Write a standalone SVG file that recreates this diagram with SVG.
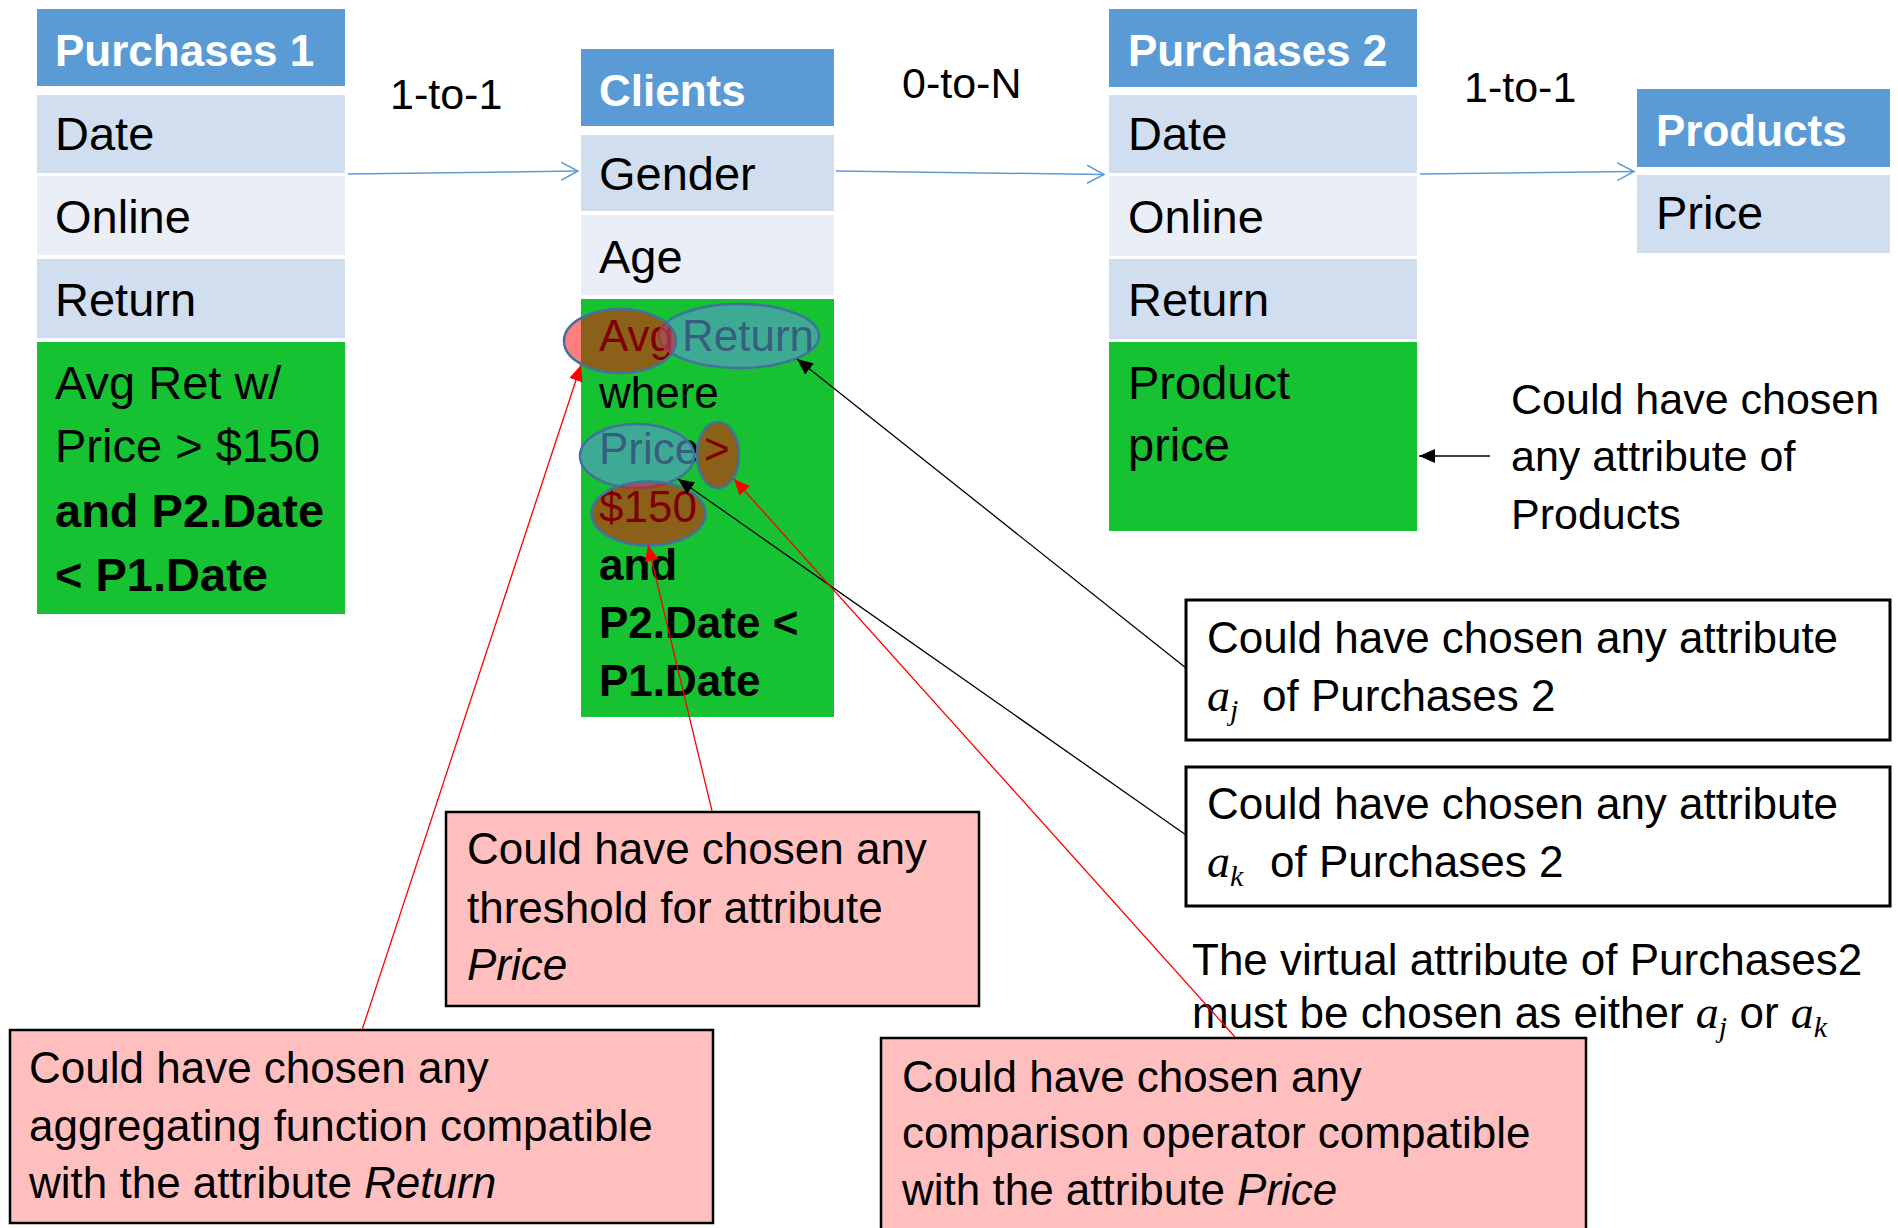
<svg xmlns="http://www.w3.org/2000/svg" width="1898" height="1228" viewBox="0 0 1898 1228">
<style>
text{font-family:"Liberation Sans",Arial,sans-serif;fill:#000}
.hd{fill:#5B9BD5}
.r1{fill:#D0DEEF}
.r2{fill:#E9EEF7}
.gr{fill:#16C132}
.ht{font-weight:bold;font-size:44px;fill:#fff}
.rt{font-size:47px}
.ct{font-size:44px}
.b{font-weight:bold}
.lbl{font-size:43px}
.an{font-size:44px}
.note{fill:#FFBFBF;stroke:#000;stroke-width:2.5}
.box{fill:#fff;stroke:#000;stroke-width:3}
.m{font-family:"Liberation Serif","Times New Roman",serif;font-style:italic}
.el{stroke:#41719C;stroke-width:2.5}
.er{fill:rgba(255,0,0,0.5)}
.eb{fill:rgba(91,155,213,0.6)}
.rel{fill:none;stroke:#5B9BD5;stroke-width:1.5}
.blk{fill:none;stroke:#000;stroke-width:1.3}
.red{fill:none;stroke:#F00;stroke-width:1.3}
</style>
<defs>
<marker id="open" markerUnits="userSpaceOnUse" markerWidth="20" markerHeight="22" refX="17" refY="10" orient="auto"><path d="M0,1 L17,10 L0,19" fill="none" stroke="#5B9BD5" stroke-width="1.5"/></marker>
<marker id="hb" markerUnits="userSpaceOnUse" markerWidth="18" markerHeight="15" refX="16" refY="7" orient="auto"><path d="M0,0 L16,7 L0,14 z" fill="#000"/></marker>
<marker id="hr" markerUnits="userSpaceOnUse" markerWidth="18" markerHeight="15" refX="16" refY="7" orient="auto"><path d="M0,0 L16,7 L0,14 z" fill="#F00"/></marker>
</defs>

<g id="purchases1">
<rect class="hd" x="37" y="9" width="308" height="77"/>
<rect class="r1" x="37" y="95" width="308" height="78"/>
<rect class="r2" x="37" y="176" width="308" height="79"/>
<rect class="r1" x="37" y="259" width="308" height="79"/>
<rect class="gr" x="37" y="342" width="308" height="272"/>
<text class="ht" x="55" y="66">Purchases 1</text>
<text class="rt" x="55" y="150">Date</text>
<text class="rt" x="55" y="233">Online</text>
<text class="rt" x="55" y="316">Return</text>
<text class="rt" x="55" y="399">Avg Ret w/</text>
<text class="rt" x="55" y="462">Price &gt; $150</text>
<text class="rt b" x="55" y="527">and P2.Date</text>
<text class="rt b" x="55" y="591">&lt; P1.Date</text>
</g>

<g id="clients">
<rect class="hd" x="581" y="49" width="253" height="77"/>
<rect class="r1" x="581" y="135" width="253" height="76"/>
<rect class="r2" x="581" y="215" width="253" height="80"/>
<rect class="gr" x="581" y="299" width="253" height="418"/>
<text class="ht" x="599" y="106">Clients</text>
<text class="rt" x="599" y="190">Gender</text>
<text class="rt" x="599" y="273">Age</text>
<text class="ct" x="599" y="351">Avg</text>
<text class="ct" x="682" y="351">Return</text>
<text class="ct" x="599" y="408">where</text>
<text class="ct" x="599" y="464">Price</text>
<text class="ct" x="704" y="464">&gt;</text>
<text class="ct" x="599" y="522">$150</text>
<text class="ct b" x="599" y="580">and</text>
<text class="ct b" x="599" y="638">P2.Date &lt;</text>
<text class="ct b" x="599" y="696">P1.Date</text>
<ellipse class="el eb" cx="739" cy="336" rx="80" ry="32"/>
<ellipse class="el er" cx="620" cy="341" rx="56" ry="32"/>
<ellipse class="el eb" cx="637" cy="456" rx="57" ry="32"/>
<ellipse class="el er" cx="718" cy="455" rx="21" ry="33"/>
<ellipse class="el er" cx="648.5" cy="513.5" rx="57" ry="32"/>
</g>

<g id="purchases2">
<rect class="hd" x="1109" y="9" width="308" height="78"/>
<rect class="r1" x="1109" y="95" width="308" height="78"/>
<rect class="r2" x="1109" y="176" width="308" height="80"/>
<rect class="r1" x="1109" y="259" width="308" height="80"/>
<rect class="gr" x="1109" y="342" width="308" height="189"/>
<text class="ht" x="1128" y="66">Purchases 2</text>
<text class="rt" x="1128" y="150">Date</text>
<text class="rt" x="1128" y="233">Online</text>
<text class="rt" x="1128" y="316">Return</text>
<text class="rt" x="1128" y="399">Product</text>
<text class="rt" x="1128" y="461">price</text>
</g>

<g id="products">
<rect class="hd" x="1637" y="89" width="253" height="78"/>
<rect class="r1" x="1637" y="175" width="253" height="78"/>
<text class="ht" x="1656" y="146">Products</text>
<text class="rt" x="1656" y="229">Price</text>
</g>

<g id="labels">
<text class="lbl" x="390" y="109">1-to-1</text>
<text class="lbl" x="902" y="98">0-to-N</text>
<text class="lbl" x="1464" y="102">1-to-1</text>
</g>

<g id="note-products">
<text class="lbl" x="1511" y="414">Could have chosen</text>
<text class="lbl" x="1511" y="471">any attribute of</text>
<text class="lbl" x="1511" y="529">Products</text>
</g>

<g id="note-aj">
<rect class="box" x="1186" y="600" width="704" height="140"/>
<text class="an" x="1207" y="653">Could have chosen any attribute</text>
<text class="an" x="1207" y="711"><tspan class="m" font-size="46">a</tspan><tspan class="m" font-size="30" dy="9">j</tspan><tspan dy="-9" x="1262">of Purchases 2</tspan></text>
</g>

<g id="note-ak">
<rect class="box" x="1186" y="767" width="704" height="139"/>
<text class="an" x="1207" y="819">Could have chosen any attribute</text>
<text class="an" x="1207" y="877"><tspan class="m" font-size="46">a</tspan><tspan class="m" font-size="30" dy="9">k</tspan><tspan dy="-9" x="1270">of Purchases 2</tspan></text>
</g>

<g id="note-virtual">
<text class="an" x="1192" y="975">The virtual attribute of Purchases2</text>
<text class="an" x="1192" y="1028">must be chosen as either <tspan class="m" font-size="46">a</tspan><tspan class="m" font-size="30" dy="9">j</tspan><tspan dy="-9"> or </tspan><tspan class="m" font-size="46">a</tspan><tspan class="m" font-size="30" dy="9">k</tspan></text>
</g>

<g id="note-threshold">
<rect class="note" x="446" y="812" width="533" height="194"/>
<text class="an" x="467" y="864">Could have chosen any</text>
<text class="an" x="467" y="923">threshold for attribute</text>
<text class="an" x="467" y="980" font-style="italic">Price</text>
</g>

<g id="note-aggregate">
<rect class="note" x="10" y="1030" width="703" height="193"/>
<text class="an" x="29" y="1083">Could have chosen any</text>
<text class="an" x="29" y="1141">aggregating function compatible</text>
<text class="an" x="29" y="1198">with the attribute <tspan font-style="italic">Return</tspan></text>
</g>

<g id="note-comparison">
<rect class="note" x="881" y="1038" width="705" height="210"/>
<text class="an" x="902" y="1092">Could have chosen any</text>
<text class="an" x="902" y="1148">comparison operator compatible</text>
<text class="an" x="902" y="1205">with the attribute <tspan font-style="italic">Price</tspan></text>
</g>

<g id="connectors">
<line class="rel" x1="348" y1="174" x2="578" y2="171" marker-end="url(#open)"/>
<line class="rel" x1="836" y1="171" x2="1104" y2="174.5" marker-end="url(#open)"/>
<line class="rel" x1="1420" y1="174" x2="1634" y2="171.5" marker-end="url(#open)"/>
<line class="blk" x1="1490" y1="456" x2="1419" y2="456" marker-end="url(#hb)"/>
<line class="blk" x1="1186" y1="668" x2="797" y2="359" marker-end="url(#hb)"/>
<line class="blk" x1="1186" y1="835" x2="678" y2="479" marker-end="url(#hb)"/>
<line class="red" x1="1235" y1="1037" x2="734" y2="479" marker-end="url(#hr)"/>
<line class="red" x1="712" y1="811" x2="648" y2="545" marker-end="url(#hr)"/>
<line class="red" x1="362" y1="1030" x2="581" y2="365" marker-end="url(#hr)"/>
</g>
</svg>
